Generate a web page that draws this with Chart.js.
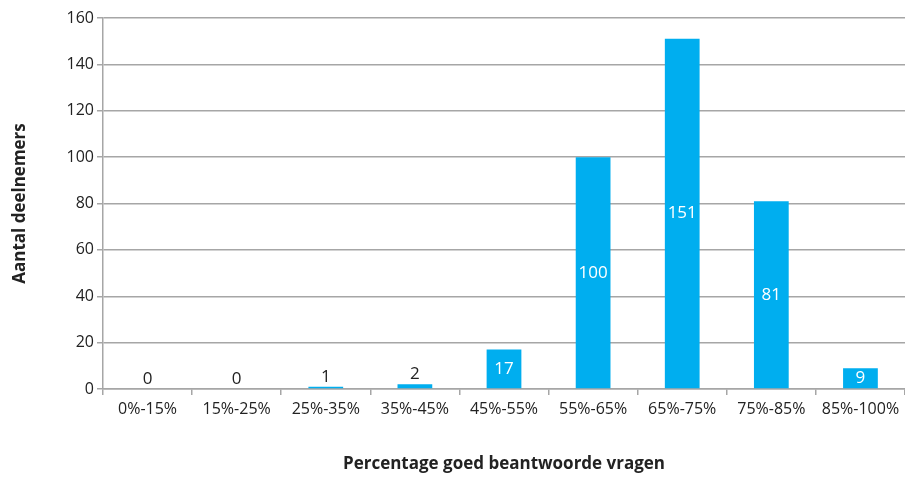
<!DOCTYPE html>
<html>
<head>
<meta charset="utf-8">
<script src="https://cdn.jsdelivr.net/npm/chart.js@4/dist/chart.umd.min.js"></script>
<style>
  html, body { margin: 0; padding: 0; background: #fff; }
  #wrap { width: 905px; height: 478px; position: relative; }
</style>
</head>
<body>
<div id="wrap"><canvas id="chart"></canvas></div>
<script>
const categories = ["0%-15%", "15%-25%", "25%-35%", "35%-45%", "45%-55%", "55%-65%", "65%-75%", "75%-85%", "85%-100%"];
const participants = [0, 0, 1, 2, 17, 100, 151, 81, 9];
const yTicks = [0, 20, 40, 60, 80, 100, 120, 140, 160];

const FONT = "'Open Sans', 'Noto Sans', sans-serif";
const BLUE = "#00aeef";

// value labels: white inside the bar when it is tall enough, dark above it otherwise
const valueLabels = {
  id: "valueLabels",
  afterDatasetsDraw(chart) {
    const ctx = chart.ctx;
    const meta = chart.getDatasetMeta(0);
    ctx.save();
    ctx.font = "17px " + FONT;
    ctx.textAlign = "center";
    ctx.textBaseline = "middle";
    meta.data.forEach((bar, i) => {
      const v = participants[i];
      const h = bar.base - bar.y;
      if (h > 20) {
        ctx.fillStyle = "#ffffff";
        ctx.fillText(String(v), bar.x, (bar.y + bar.base) / 2);
      } else {
        ctx.fillStyle = "#222222";
        ctx.fillText(String(v), bar.x, bar.y - 10);
      }
    });
    ctx.restore();
  },
};

new Chart(document.getElementById("chart"), {
  type: "bar",
  data: {
    labels: categories,
    datasets: [{
      data: participants,
      backgroundColor: BLUE,
      borderWidth: 0,
      barPercentage: 0.39,
      categoryPercentage: 1,
    }],
  },
  options: {
    responsive: true,
    maintainAspectRatio: false,
    animation: false,
    layout: { padding: { top: 18, right: 0, left: 0, bottom: 0 } },
    plugins: {
      legend: { display: false },
      tooltip: { enabled: false },
    },
    scales: {
      x: {
        grid: {
          offset: true,
          drawOnChartArea: false,
          drawTicks: true,
          tickLength: 6,
          color: "#a6a6a6",
          lineWidth: 1.5,
        },
        border: { color: "#a6a6a6", width: 1.5 },
        ticks: { color: "#222", font: { family: FONT, size: 16 }, padding: 5, maxRotation: 0 },
        title: {
          display: true,
          text: "Percentage goed beantwoorde vragen",
          color: "#222",
          font: { family: FONT, size: 17, weight: "bold" },
          padding: { top: 32 },
        },
        afterFit(scale) { scale.height = 89; },
      },
      y: {
        min: 0,
        max: 160,
        afterBuildTicks(scale) { scale.ticks = yTicks.map((v) => ({ value: v })); },
        grid: { color: "#a6a6a6", lineWidth: 1.5, tickLength: 6 },
        border: { color: "#a6a6a6", width: 1.5 },
        ticks: { color: "#222", font: { family: FONT, size: 16 }, padding: 3 },
        title: {
          display: true,
          text: "Aantal deelnemers",
          color: "#222",
          font: { family: FONT, size: 17, weight: "bold" },
          padding: { top: 10, bottom: 0 },
        },
        afterFit(scale) { scale.width = 103; },
      },
    },
  },
  plugins: [valueLabels],
});
</script>
</body>
</html>
